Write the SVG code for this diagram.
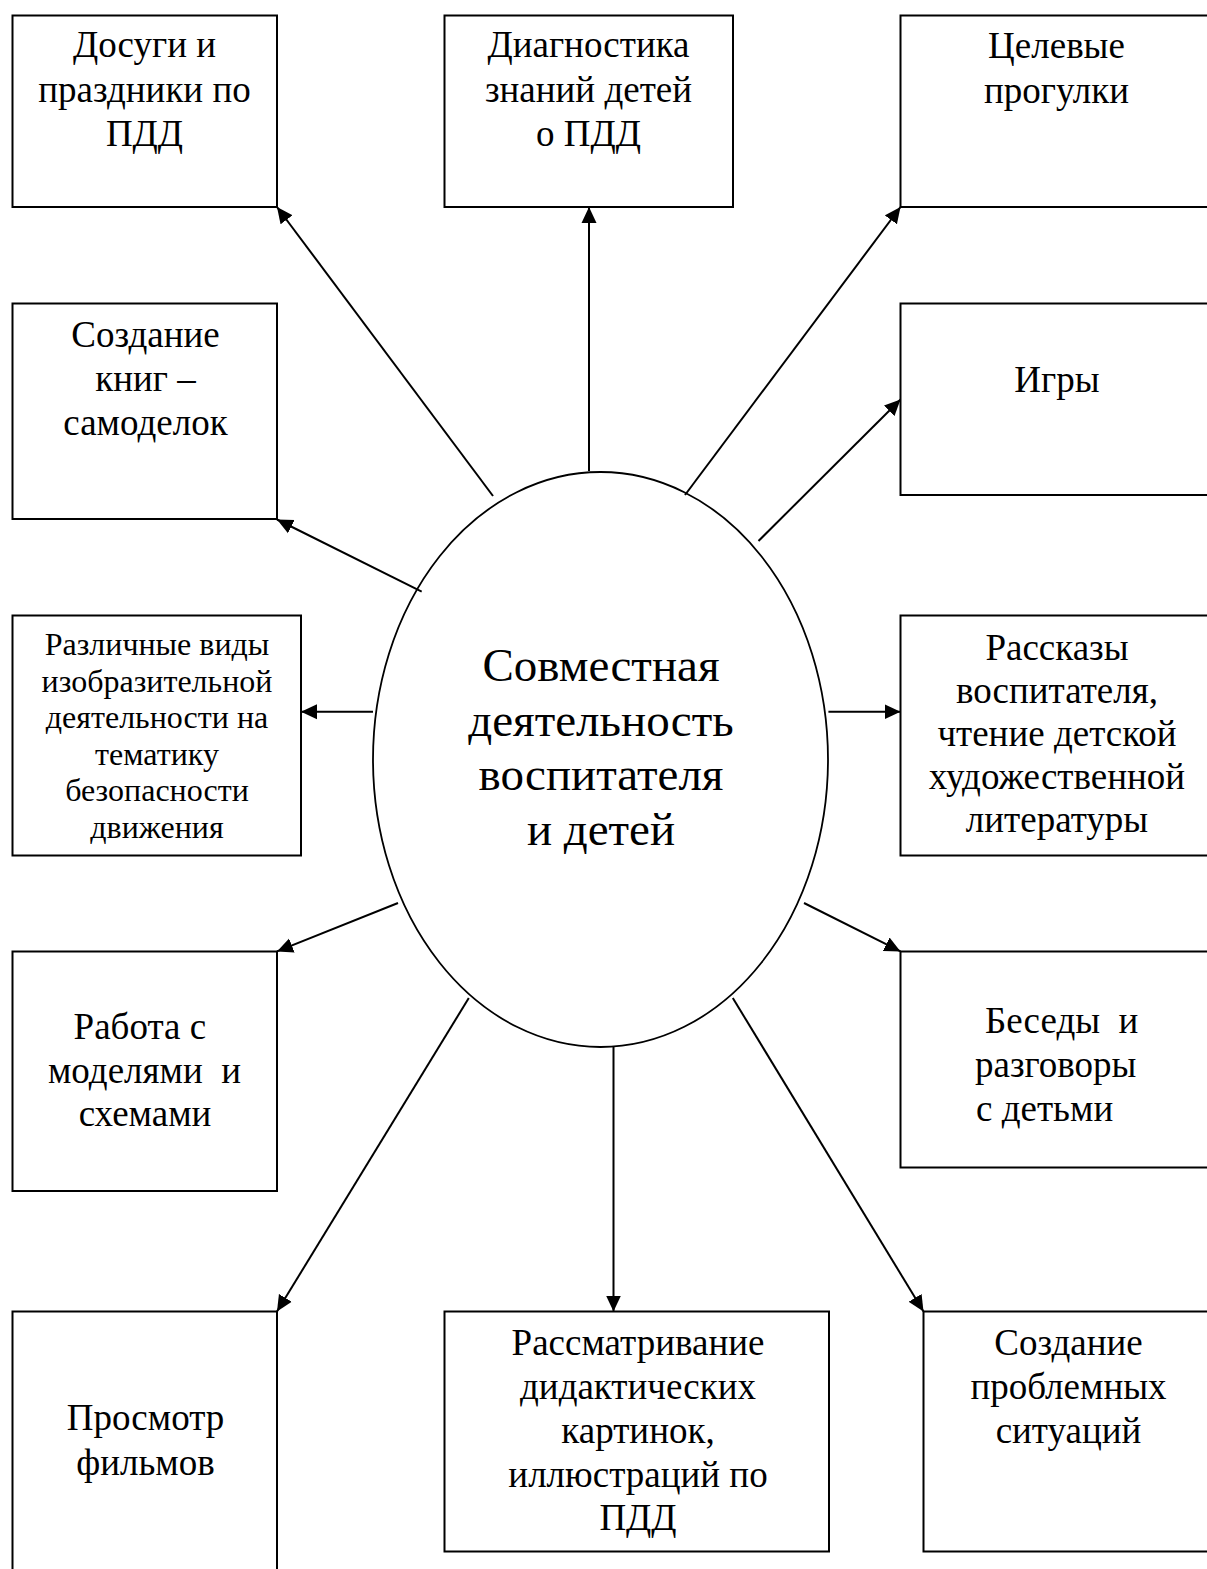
<svg xmlns="http://www.w3.org/2000/svg" width="1207" height="1569" viewBox="0 0 1207 1569">
<style>
  .box { fill: #ffffff; stroke: #000000; stroke-width: 2; }
  .oval { fill: #ffffff; stroke: #000000; stroke-width: 1.8; }
  .t { font-family: "Liberation Serif", "Times New Roman", serif; font-size: 37px; fill: #000000; text-anchor: middle; }
  .ts { font-family: "Liberation Serif", "Times New Roman", serif; font-size: 32px; fill: #000000; text-anchor: middle; }
  .tc { font-family: "Liberation Serif", "Times New Roman", serif; font-size: 47px; fill: #000000; text-anchor: middle; }
  .st { text-anchor: start; }
  .pre { white-space: pre; }
  .conn line { stroke: #000000; stroke-width: 2; fill: none; marker-end: url(#arrow); }
</style>
<defs>
  <marker id="arrow" markerUnits="userSpaceOnUse" markerWidth="16" markerHeight="16" viewBox="0 0 16 15" refX="16" refY="7.5" orient="auto">
    <path d="M0,0 L16,7.5 L0,15 z" fill="#000000"/>
  </marker>
</defs>
<rect x="0" y="0" width="1207" height="1569" fill="#ffffff"/>

<g id="center">
  <ellipse class="oval" cx="600.5" cy="759.5" rx="227.5" ry="287.5"/>
  <text class="tc" x="601" y="681">Совместная</text>
  <text class="tc" x="601" y="735.5">деятельность</text>
  <text class="tc" x="601" y="790">воспитателя</text>
  <text class="tc" x="601" y="844.5">и детей</text>
</g>

<g class="conn" id="connectors">
  <line x1="493" y1="496" x2="277" y2="207"/>
  <line x1="589" y1="471" x2="589" y2="207"/>
  <line x1="685" y1="495" x2="900.5" y2="207"/>
  <line x1="421.7" y1="591.7" x2="277" y2="519.5"/>
  <line x1="758.5" y1="541" x2="900.5" y2="399.5"/>
  <line x1="373" y1="711.8" x2="301" y2="711.8"/>
  <line x1="828.4" y1="711.8" x2="900.5" y2="711.8"/>
  <line x1="398" y1="903" x2="277" y2="951.4"/>
  <line x1="804" y1="903" x2="900.5" y2="951.4"/>
  <line x1="468.8" y1="998" x2="277" y2="1311.5"/>
  <line x1="613.5" y1="1047" x2="613.5" y2="1311.5"/>
  <line x1="732.8" y1="998" x2="923.5" y2="1311.5"/>
</g>

<g id="n1">
  <rect class="box" x="12.5" y="15.5" width="264.5" height="191.5"/>
  <text class="t" x="144.5" y="57">Досуги и</text>
  <text class="t" x="144.5" y="101.5">праздники по</text>
  <text class="t" x="144.5" y="146">ПДД</text>
</g>

<g id="n2">
  <rect class="box" x="444.5" y="15.5" width="288.5" height="191.5"/>
  <text class="t" x="588.5" y="57">Диагностика</text>
  <text class="t" x="588.5" y="101.5">знаний детей</text>
  <text class="t" x="588.5" y="146">о ПДД</text>
</g>

<g id="n3">
  <rect class="box" x="900.5" y="15.5" width="320" height="191.5"/>
  <text class="t" x="1056.5" y="58">Целевые</text>
  <text class="t" x="1056.5" y="102.5">прогулки</text>
</g>

<g id="n4">
  <rect class="box" x="12.5" y="303.5" width="264.5" height="215.5"/>
  <text class="t" x="145.5" y="347">Создание</text>
  <text class="t" x="145.5" y="391">книг –</text>
  <text class="t" x="145.5" y="435">самоделок</text>
</g>

<g id="n5">
  <rect class="box" x="900.5" y="303.5" width="320" height="191.5"/>
  <text class="t" x="1057" y="392">Игры</text>
</g>

<g id="n6">
  <rect class="box" x="12.5" y="615.5" width="288.5" height="240"/>
  <text class="ts" x="157" y="655">Различные виды</text>
  <text class="ts" x="157" y="691.5">изобразительной</text>
  <text class="ts" x="157" y="728">деятельности на</text>
  <text class="ts" x="157" y="764.5">тематику</text>
  <text class="ts" x="157" y="801">безопасности</text>
  <text class="ts" x="157" y="837.5">движения</text>
</g>

<g id="n7">
  <rect class="box" x="900.5" y="615.5" width="320" height="240"/>
  <text class="t" x="1057" y="660">Рассказы</text>
  <text class="t" x="1057" y="703">воспитателя,</text>
  <text class="t" x="1057" y="746">чтение детской</text>
  <text class="t" x="1057" y="789">художественной</text>
  <text class="t" x="1057" y="832">литературы</text>
</g>

<g id="n8">
  <rect class="box" x="12.5" y="951.5" width="264.5" height="239.5"/>
  <text class="t pre" x="144.5" y="1039">Работа с </text>
  <text class="t pre" x="144.5" y="1082.5">моделями  и</text>
  <text class="t" x="145" y="1126">схемами</text>
</g>

<g id="n9">
  <rect class="box" x="900.5" y="951.5" width="320" height="216"/>
  <text class="t st pre" x="985" y="1033">Беседы  и</text>
  <text class="t st" x="975" y="1077">разговоры</text>
  <text class="t st" x="976" y="1121">с детьми</text>
</g>

<g id="n10">
  <rect class="box" x="12.5" y="1311.5" width="264.5" height="280"/>
  <text class="t" x="145.5" y="1430">Просмотр</text>
  <text class="t" x="145.5" y="1475">фильмов</text>
</g>

<g id="n11">
  <rect class="box" x="444.5" y="1311.5" width="384.5" height="240"/>
  <text class="t" x="638" y="1355">Рассматривание</text>
  <text class="t" x="638" y="1399">дидактических</text>
  <text class="t" x="638" y="1443">картинок,</text>
  <text class="t" x="638" y="1486.5">иллюстраций по</text>
  <text class="t" x="638" y="1530">ПДД</text>
</g>

<g id="n12">
  <rect class="box" x="923.5" y="1311.5" width="300" height="240"/>
  <text class="t" x="1068.5" y="1355">Создание</text>
  <text class="t" x="1068.5" y="1399">проблемных</text>
  <text class="t" x="1068.5" y="1443">ситуаций</text>
</g>
</svg>
